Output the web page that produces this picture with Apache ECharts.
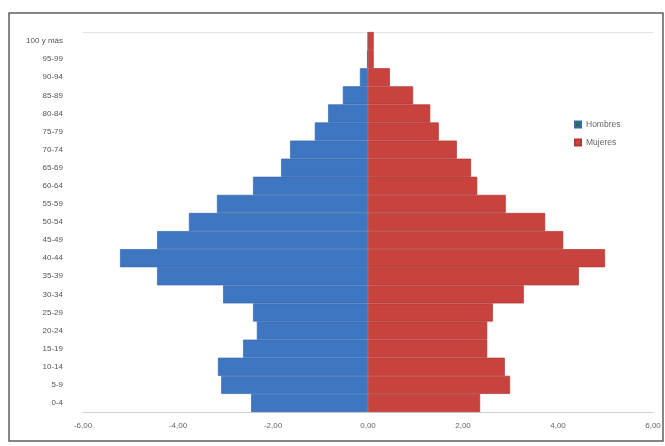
<!DOCTYPE html>
<html>
<head>
<meta charset="utf-8">
<script src="https://cdn.jsdelivr.net/npm/echarts@6/dist/echarts.min.js"></script>
<style>html,body{margin:0;padding:0;background:#fff}#c{width:665px;height:446px}</style>
</head>
<body>
<div id="c"></div>
<script>
const categories = ['0-4','5-9','10-14','15-19','20-24','25-29','30-34','35-39','40-44','45-49','50-54','55-59','60-64','65-69','70-74','75-79','80-84','85-89','90-94','95-99','100 y más'];
const hombres = [-2.46,-3.09,-3.16,-2.63,-2.34,-2.42,-3.05,-4.44,-5.22,-4.44,-3.77,-3.18,-2.42,-1.83,-1.64,-1.12,-0.84,-0.53,-0.17,-0.02,0];
const mujeres = [2.36,2.99,2.88,2.51,2.51,2.63,3.28,4.44,4.99,4.11,3.73,2.90,2.30,2.17,1.87,1.49,1.31,0.95,0.46,0.12,0.12];
const xTicks = { min: -6, max: 6, interval: 2 };

const fmt = v => v.toFixed(2).replace('.', ',');
const chart = echarts.init(document.getElementById('c'));
const font = 'Liberation Sans';
chart.setOption({
  animation: false,
  backgroundColor: '#fff',
  textStyle: { fontFamily: font },
  graphic: [{
    type: 'rect', z: -10, shape: { x: 9, y: 13, width: 654, height: 428 },
    style: { fill: 'none', stroke: '#5f5f5f', lineWidth: 1.5 }, silent: true
  }],
  grid: { left: 83, right: 12, top: 32, bottom: 34 },
  legend: {
    orient: 'vertical', left: 569, top: 115, itemWidth: 6, itemHeight: 6, itemGap: 9,
    textStyle: { fontSize: 8.5, color: '#666', fontFamily: font },
    data: [
      { name: 'Hombres', icon: 'rect', itemStyle: { color: '#2e6b55' } },
      { name: 'Mujeres', icon: 'rect', itemStyle: { color: '#c8423e' } }
    ]
  },
  xAxis: [{
    type: 'value', min: xTicks.min, max: xTicks.max, interval: xTicks.interval,
    axisLine: { show: true, lineStyle: { color: '#d0d0d0' } },
    axisTick: { show: false },
    splitLine: { show: false },
    axisLabel: { formatter: fmt, fontSize: 8, color: '#666', margin: 10 }
  }, {
    type: 'value', position: 'top', min: xTicks.min, max: xTicks.max, interval: xTicks.interval,
    axisLine: { show: true, lineStyle: { color: '#e3e3e3' } },
    axisTick: { show: false }, axisLabel: { show: false }, splitLine: { show: false }
  }],
  yAxis: {
    type: 'category', data: categories,
    axisLine: { show: false }, axisTick: { show: false },
    axisLabel: { fontSize: 8, color: '#555', margin: 20 }
  },
  series: [{
    name: 'Hombres', type: 'bar', data: hombres,
    barCategoryGap: '0%', barGap: '-100%',
    itemStyle: { color: '#3f76c1', borderColor: '#356aae', borderWidth: 0.7 }
  }, {
    name: 'Mujeres', type: 'bar', data: mujeres,
    barCategoryGap: '0%', barGap: '-100%',
    itemStyle: { color: '#c8423e', borderColor: '#b03834', borderWidth: 0.7 }
  }]
});
</script>
</body>
</html>
